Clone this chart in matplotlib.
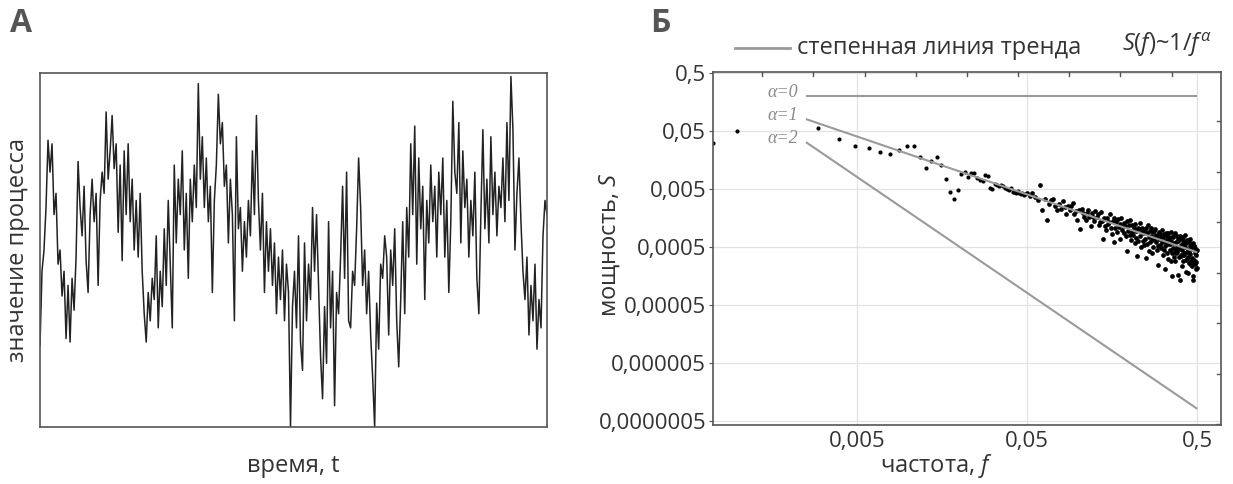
import numpy as np
import matplotlib
matplotlib.use("Agg")
import matplotlib.pyplot as plt

plt.rcParams['font.family'] = ['Open Sans', 'DejaVu Sans']
plt.rcParams['mathtext.fontset'] = 'custom'
plt.rcParams['mathtext.rm'] = 'Open Sans'
plt.rcParams['mathtext.it'] = 'Open Sans:italic'

# --- панель А: временной ряд (шкала 0..100) ---
process = [
    23, 44, 50, 62, 81, 72, 80, 60, 66, 46,
    50, 37, 44, 25, 40, 24, 42, 33, 48, 75,
    62, 54, 68, 47, 38, 60, 70, 58, 66, 40,
    64, 72, 66, 89, 70, 78, 88, 73, 80, 55,
    74, 47, 78, 60, 80, 58, 70, 50, 64, 48,
    66, 44, 32, 24, 38, 30, 42, 36, 54, 28,
    44, 34, 56, 40, 64, 46, 28, 74, 52, 70,
    60, 78, 50, 66, 42, 70, 58, 74, 62, 97,
    70, 82, 62, 76, 58, 68, 38, 64, 74, 94,
    80, 86, 68, 74, 52, 70, 60, 30, 82, 56,
    62, 44, 58, 48, 64, 54, 78, 60, 88, 64,
    50, 66, 38, 58, 44, 56, 40, 52, 32, 48,
    36, 50, 30, 46, 38, 0, 34, 44, 28, 54,
    24, 16, 52, 30, 46, 36, 62, 44, 60, 40,
    20, 8, 34, 18, 58, 28, 44, 6, 38, 32,
    48, 68, 42, 72, 30, 28, 44, 40, 56, 76,
    62, 40, 50, 32, 44, 26, 14, 0, 35, 22,
    46, 42, 54, 48, 26, 50, 40, 56, 30, 17,
    36, 58, 32, 62, 48, 80, 60, 85, 46, 76,
    56, 68, 36, 64, 52, 74, 58, 68, 48, 72,
    60, 76, 48, 64, 38, 58, 92, 72, 66, 86,
    52, 78, 62, 70, 48, 64, 54, 72, 42, 32,
    60, 84, 56, 70, 52, 82, 60, 72, 54, 68,
    62, 76, 58, 86, 64, 99, 84, 50, 66, 76,
    58, 44, 36, 48, 26, 40, 30, 46, 22, 36,
    28, 54, 64, 60,
]

# --- панель Б: спектр мощности, частота = k / 1024 ---
n_fft = 1024
k_low = [0.73, 1, 3, 4, 5, 6, 7, 8, 9, 10, 11, 12, 13, 14, 15, 16, 17, 18, 19, 20,
         21, 22, 23, 24, 25, 26, 27, 28, 29, 30, 31, 32, 33, 34, 35, 36, 37, 38, 39, 40,
         41, 42, 43, 44, 45, 46, 47, 48, 49, 50]
power_low = [0.031, 0.049, 0.057, 0.036, 0.028, 0.025, 0.022, 0.020, 0.023, 0.028,
             0.028, 0.018, 0.0115, 0.0152, 0.018, 0.013, 0.0075, 0.0045, 0.0033, 0.0047,
             0.0091, 0.0098, 0.0080, 0.0094, 0.0094, 0.0077, 0.0071, 0.0069, 0.0087, 0.0084,
             0.0051, 0.0050, 0.0060, 0.0059, 0.0057, 0.0058, 0.0055, 0.0052, 0.0049, 0.0047,
             0.0051, 0.0045, 0.0044, 0.0043, 0.0046, 0.0042, 0.0040, 0.0043, 0.0039, 0.0041]

k_high = list(range(51, 512, 2))
log_power_high = [
    -2.37, -2.43, -2.38, -2.44, -2.50, -2.24, -2.67, -2.48, -2.83, -2.56,
    -2.50, -2.48, -2.59, -2.66, -2.56, -2.64, -2.51, -2.61, -2.74, -2.59,
    -2.67, -2.60, -2.55, -2.74, -2.69, -2.83, -2.66, -2.99, -2.64, -2.71,
    -2.78, -2.84, -2.72, -2.67, -2.78, -2.94, -2.72, -2.78, -2.86, -2.68,
    -2.79, -2.73, -2.93, -2.87, -2.70, -2.85, -3.16, -2.80, -2.94, -3.01,
    -2.80, -2.90, -2.88, -2.74, -2.98, -3.08, -2.86, -2.80, -3.21, -2.97,
    -2.87, -3.05, -2.82, -2.96, -2.91, -3.16, -2.80, -3.01, -2.95, -3.06,
    -2.89, -2.95, -3.12, -2.86, -3.37, -3.03, -2.93, -3.09, -2.84, -3.19,
    -3.04, -2.92, -3.09, -2.98, -3.24, -2.90, -3.03, -3.15, -3.46, -2.98,
    -3.20, -3.00, -2.89, -3.12, -3.31, -3.05, -2.98, -3.20, -3.07, -3.27,
    -3.03, -3.17, -3.49, -2.98, -3.07, -3.26, -2.92, -3.13, -3.37, -3.03,
    -3.22, -2.98, -3.11, -3.18, -3.41, -3.05, -3.31, -3.03, -3.16, -3.11,
    -2.99, -3.21, -3.36, -3.09, -3.14, -3.61, -3.29, -3.04, -3.17, -3.27,
    -3.08, -3.32, -3.14, -3.01, -3.22, -3.45, -3.13, -3.36, -3.08, -3.22,
    -3.29, -3.69, -3.06, -3.19, -3.41, -3.11, -3.26, -3.51, -3.06, -3.17,
    -3.14, -3.36, -3.26, -3.54, -3.05, -3.20, -3.40, -3.80, -3.12, -3.33,
    -3.14, -3.24, -3.48, -3.36, -3.07, -3.54, -3.21, -3.41, -3.12, -3.31,
    -3.39, -3.20, -3.79, -3.16, -3.34, -3.48, -3.11, -3.88, -3.28, -3.45,
    -3.16, -3.46, -3.35, -3.64, -3.26, -3.14, -3.55, -3.25, -3.41, -3.20,
    -3.44, -3.10, -3.30, -3.53, -3.73, -3.23, -3.39, -3.19, -3.51, -3.35,
    -3.22, -3.48, -3.75, -3.19, -3.37, -3.58, -3.16, -3.43, -3.29, -3.62,
    -3.26, -3.54, -3.31, -3.64, -3.50, -3.80, -3.23, -3.88, -3.29, -3.57,
    -3.53, -3.29, -3.41, -3.60, -3.33, -3.69, -3.37, -3.57, -3.44, -3.67, -3.36,
]

# степенные линии тренда S = C / f^alpha
trend_alpha = [0, 1, 2]
trend_const = [0.2, 0.0002, 2.0e-7]
trend_f = [0.0025, 0.5]

y_ticks = [5e-7, 5e-6, 5e-5, 5e-4, 5e-3, 5e-2, 5e-1]
y_ticklabels = ['0,0000005', '0,000005', '0,00005', '0,0005', '0,005', '0,05', '0,5']
x_ticks = [0.005, 0.05, 0.5]
x_ticklabels = ['0,005', '0,05', '0,5']

W, H = 1233, 484
fig = plt.figure(figsize=(W / 100, H / 100), dpi=100)

spine_col = '#555555'
text_col = '#333333'

# ---------- А ----------
ax1 = fig.add_axes([40 / W, (H - 427) / H, 507 / W, 354 / H])
t = np.arange(len(process))
ax1.plot(t, process, color='#222222', lw=1.1)
ax1.set_xlim(0, len(process) - 1)
ax1.set_ylim(0, 100)
ax1.set_xticks([])
ax1.set_yticks([])
for s in ax1.spines.values():
    s.set_color(spine_col)
    s.set_linewidth(1.2)
fig.text(293 / W, 1 - 466 / H, 'время, t', fontsize=17, color=text_col,
         ha='center', va='center')
fig.text(18 / W, 1 - 250 / H, 'значение процесса', fontsize=17, color=text_col,
         ha='center', va='center', rotation=90)
fig.text(10 / W, 1 - 23 / H, 'А', fontsize=23, fontweight='bold', color='#555555',
         va='center', ha='left')

# ---------- Б ----------
ax2 = fig.add_axes([713 / W, (H - 425) / H, 508 / W, 353 / H])
ax2.set_xscale('log')
ax2.set_yscale('log')

f_low = np.array(k_low) / n_fft
f_high = np.array(k_high) / n_fft
ax2.plot(f_low, power_low, 'o', color='black', ms=3.0, mew=0)
ax2.plot(f_high, 10 ** np.array(log_power_high), 'o', color='black', ms=3.4, mew=0)

ff = np.array(trend_f)
for a, c in zip(trend_alpha, trend_const):
    ax2.plot(ff, c / ff ** a, color='#9a9a9a', lw=1.5, solid_capstyle='butt')
    ax2.text(0.00225, c / ff[0] ** a * 1.15, 'α=%d' % a, family='Liberation Serif',
             style='italic', fontsize=13, color='#8a8a8a', ha='right', va='center')

ax2.set_xlim(0.00071, 0.69)
ax2.set_ylim(4.2e-7, 0.52)
ax2.set_xticks(x_ticks)
ax2.set_xticklabels(x_ticklabels)
ax2.set_yticks(y_ticks)
ax2.set_yticklabels(y_ticklabels)
ax2.minorticks_off()
ax2.tick_params(axis='both', labelsize=16, labelcolor=text_col, color=spine_col)
ax2.tick_params(axis='x', length=0, pad=4)
ax2.tick_params(axis='y', length=3, pad=2)
ax2.grid(True, color='#e2e2e2', lw=0.9)
ax2.set_axisbelow(True)
for s in ax2.spines.values():
    s.set_color(spine_col)
    s.set_linewidth(1.2)

# мелкие засечки внутрь на верхней и правой рамке
top_ticks = np.sqrt(2) / n_fft * 2.0 ** np.arange(9)
right_ticks = 0.0743 * 0.134 ** np.arange(7)
for pos in top_ticks:
    ax2.plot([pos, pos], [0.52, 0.52 / 1.17], color=spine_col, lw=1.0)
for pos in right_ticks:
    ax2.plot([0.69, 0.69 / 1.05], [pos, pos], color=spine_col, lw=1.0)

fig.text(937 / W, 1 - 466 / H, 'частота, $f$', fontsize=17, color=text_col,
         ha='center', va='center')
fig.text(610 / W, 1 - 245 / H, 'мощность, $S$', fontsize=17, color=text_col,
         ha='center', va='center', rotation=90)

# легенда над графиком
fig.add_artist(plt.Line2D([735 / W, 790 / W], [1 - 48 / H, 1 - 48 / H],
                          color='#9a9a9a', lw=2))
fig.text(797 / W, 1 - 48 / H, 'степенная линия тренда', fontsize=17, color=text_col,
         va='center', ha='left')
fig.text(1122 / W, 1 - 45 / H, '$S(f)$~$1/f^{\\alpha}$', fontsize=17, color=text_col,
         va='center', ha='left')
fig.text(650 / W, 1 - 23 / H, 'Б', fontsize=23, fontweight='bold', color='#555555',
         va='center', ha='left')

fig.savefig('out.png', dpi=100)
